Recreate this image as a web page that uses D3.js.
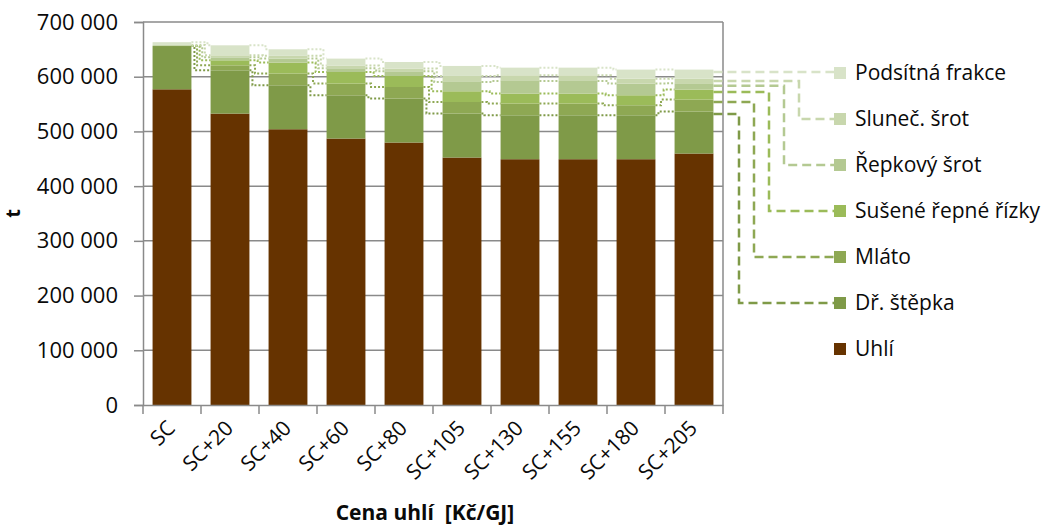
<!DOCTYPE html>
<html lang="cs">
<head>
<meta charset="UTF-8">
<title>Cena uhlí</title>
<script src="https://cdn.jsdelivr.net/npm/d3@7"></script>
<style>
  body { margin: 0; background: #fff; }
  svg text { font-family: "Open Sans", sans-serif; fill: #0a0a0a; }
</style>
</head>
<body>
<div id="chart"></div>
<script>
// data (t)
const categories = ["SC", "SC+20", "SC+40", "SC+60", "SC+80", "SC+105", "SC+130", "SC+155", "SC+180", "SC+205"];
const seriesNames = ["Uhlí", "Dř. štěpka", "Mláto", "Sušené řepné řízky", "Řepkový šrot", "Sluneč. šrot", "Podsítná frakce"];
const uhli     = [577000, 532600, 504000, 487000, 479700, 452300, 449200, 449200, 449200, 459600];
const stepka   = [79100, 79100, 80300, 79000, 80300, 80300, 80300, 80300, 80300, 76700];
const mlato    = [0, 9100, 21400, 21400, 21200, 21200, 21400, 21400, 18300, 21900];
const rizky    = [0, 9200, 20100, 21200, 20100, 19600, 18300, 18300, 18300, 18300];
const repkovy  = [0, 5400, 7300, 6800, 8600, 17000, 23000, 23000, 21300, 11500];
const slunec   = [2000, 3700, 5000, 5000, 5000, 11000, 10400, 10400, 9100, 8600];
const podsitna = [5000, 18300, 12000, 12700, 12000, 18300, 14000, 14000, 16500, 16400];
const yTicks = [0, 100000, 200000, 300000, 400000, 500000, 600000, 700000];
const colors = ["#663300", "#7f9a48", "#8ea853", "#9bbb59", "#b4c992", "#c8d7ad", "#d8e3c8"];

const W = 1045, H = 525;
const margin = { top: 22, right: 322, bottom: 120, left: 143 };

const table = categories.map((c, i) => ({
  cat: c,
  s0: uhli[i], s1: stepka[i], s2: mlato[i], s3: rizky[i],
  s4: repkovy[i], s5: slunec[i], s6: podsitna[i]
}));
const keys = ["s0", "s1", "s2", "s3", "s4", "s5", "s6"];
const stacked = d3.stack().keys(keys)(table);

const svg = d3.select("#chart").append("svg")
  .attr("width", W).attr("height", H);

const x = d3.scaleBand().domain(categories)
  .range([margin.left, W - margin.right])
  .paddingInner(0.33).paddingOuter(0.165);
const y = d3.scaleLinear().domain([0, 700000])
  .range([H - margin.bottom, margin.top]);

const fmt = v => d3.format(",")(v).replace(/,/g, " ");

// gridlines
svg.append("g").selectAll("line").data(yTicks.slice(1)).join("line")
  .attr("x1", margin.left).attr("x2", W - margin.right)
  .attr("y1", d => y(d)).attr("y2", d => y(d))
  .attr("stroke", "#8a8a8a").attr("stroke-width", 1.5);
// right border
svg.append("line")
  .attr("x1", W - margin.right).attr("x2", W - margin.right)
  .attr("y1", y(700000)).attr("y2", y(0))
  .attr("stroke", "#8a8a8a").attr("stroke-width", 1.5);

// bars
svg.append("g").selectAll("g").data(stacked).join("g")
  .attr("fill", (d, i) => colors[i])
  .selectAll("rect").data(d => d).join("rect")
  .attr("x", d => x(d.data.cat))
  .attr("width", x.bandwidth())
  .attr("y", d => y(d[1]))
  .attr("height", d => y(d[0]) - y(d[1]));

// dotted step connectors between neighbouring bars (green series only)
const conn = svg.append("g").attr("fill", "none");
for (let k = 1; k < keys.length; k++) {
  const layer = stacked[k];
  for (let i = 0; i < categories.length - 1; i++) {
    const xr = x(categories[i]) + x.bandwidth();
    const xl = x(categories[i + 1]);
    const xv = xr + 3 + (k - 1) * 2.6;
    const ya = y(layer[i][1]), yb = y(layer[i + 1][1]);
    conn.append("path")
      .attr("d", `M${xr},${ya}H${xv}V${yb}H${xl}`)
      .attr("stroke", colors[k])
      .attr("stroke-width", 2)
      .attr("stroke-dasharray", "2,2");
  }
}

// axes
const yAxis = svg.append("g")
  .attr("transform", `translate(${margin.left},0)`)
  .call(d3.axisLeft(y).tickValues(yTicks).tickFormat(fmt).tickSize(9).tickPadding(16));
yAxis.select(".domain").attr("stroke", "#8a8a8a").attr("stroke-width", 1.5);
yAxis.selectAll(".tick line").attr("stroke", "#8a8a8a").attr("stroke-width", 1.5);
yAxis.selectAll("text").style("font-size", "22px").attr("fill", "#0a0a0a");

const xAxis = svg.append("g")
  .attr("transform", `translate(0,${y(0)})`)
  .call(d3.axisBottom(x).tickSize(0).tickFormat(""));
xAxis.select(".domain").attr("stroke", "#8a8a8a").attr("stroke-width", 1.5);
const step = x.step();
svg.append("g").selectAll("line").data(d3.range(categories.length + 1)).join("line")
  .attr("x1", i => margin.left + i * step).attr("x2", i => margin.left + i * step)
  .attr("y1", y(0)).attr("y2", y(0) + 9)
  .attr("stroke", "#8a8a8a").attr("stroke-width", 1.5);

svg.append("g").selectAll("text").data(categories).join("text")
  .attr("transform", d => `translate(${x(d) + x.bandwidth() / 2 - 6},${y(0) + 14}) rotate(-45)`)
  .attr("text-anchor", "end")
  .attr("dy", "0.7em")
  .style("font-size", "21px")
  .text(d => d);

// axis titles
svg.append("text")
  .attr("transform", `translate(20,${(y(0) + y(700000)) / 2}) rotate(-90)`)
  .attr("text-anchor", "middle")
  .style("font-size", "20px").style("font-weight", "bold")
  .text("t");
svg.append("text")
  .attr("x", 425).attr("y", 520)
  .attr("text-anchor", "middle")
  .style("font-size", "21px").style("font-weight", "bold")
  .attr("xml:space", "preserve")
  .text("Cena uhlí  [Kč/GJ]");

// legend with dashed leaders from the last bar
const legX = 834, legTop = 73, legStep = 46;
const last = categories.length - 1;
const barRight = x(categories[last]) + x.bandwidth();
const legend = svg.append("g");
for (let k = keys.length - 1; k >= 0; k--) {
  const row = keys.length - 1 - k;
  const ly = legTop + row * legStep;
  if (k > 0) {
    const ys = y(stacked[k][last][1]) + 2.5;
    const xv = W - margin.right + 16 + (k - 1) * 15;
    const d = k === keys.length - 1
      ? `M${barRight},${ys}H${legX}`
      : `M${barRight},${ys}H${xv}V${ly}H${legX}`;
    legend.append("path").attr("d", d)
      .attr("fill", "none").attr("stroke", colors[k])
      .attr("stroke-width", 2.5).attr("stroke-dasharray", "9,5");
  }
  legend.append("rect")
    .attr("x", legX).attr("y", ly - 6).attr("width", 12).attr("height", 12)
    .attr("fill", colors[k]);
  legend.append("text")
    .attr("x", legX + 21).attr("y", ly).attr("dy", "0.35em")
    .style("font-size", "21px")
    .text(seriesNames[k]);
}
</script>
</body>
</html>
